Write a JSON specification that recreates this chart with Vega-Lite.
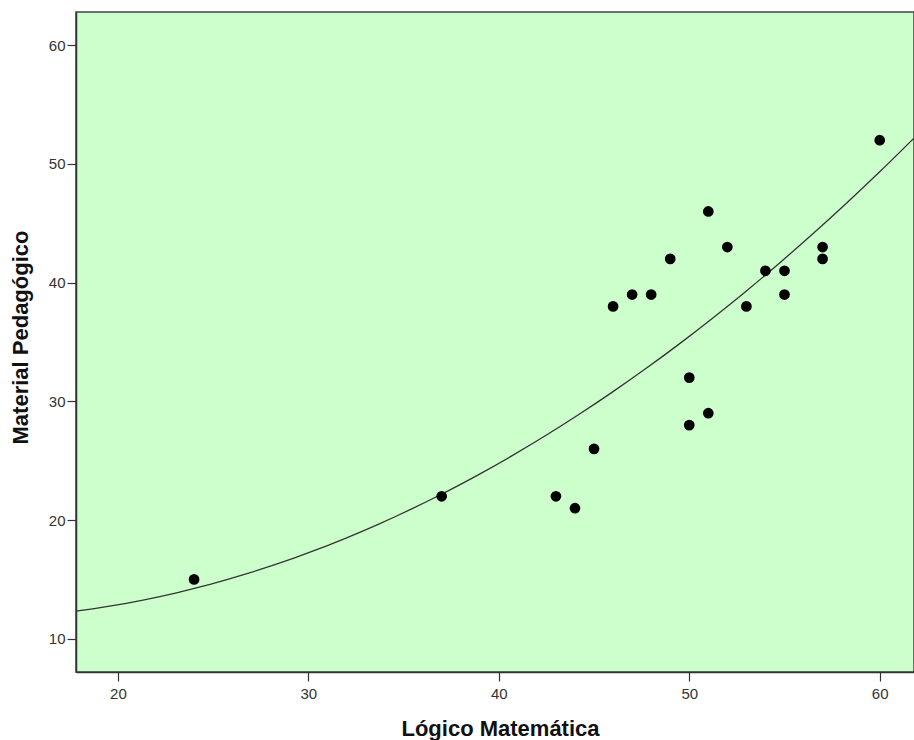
{
  "$schema": "https://vega.github.io/schema/vega-lite/v6.json",
  "autosize": {"type": "none"},
  "width": 838,
  "height": 660,
  "padding": {"left": 76, "top": 12, "right": 0, "bottom": 68},
  "background": "white",
  "config": {
    "view": {"fill": "#ccffcc", "stroke": "#444444", "strokeWidth": 1.5},
    "axis": {
      "grid": false,
      "domainColor": "#333333",
      "domainWidth": 1.5,
      "tickColor": "#333333",
      "tickWidth": 1.2,
      "tickSize": 9,
      "labelFont": "Liberation Sans",
      "labelFontSize": 15,
      "labelColor": "#333333",
      "titleFont": "Liberation Sans",
      "titleFontSize": 22,
      "titleFontWeight": "bold",
      "titleColor": "#111111"
    }
  },
  "data": {
    "values": [
      {"x": 24, "y": 15}, {"x": 37, "y": 22}, {"x": 43, "y": 22}, {"x": 44, "y": 21},
      {"x": 45, "y": 26}, {"x": 46, "y": 38}, {"x": 47, "y": 39}, {"x": 48, "y": 39},
      {"x": 49, "y": 42}, {"x": 50, "y": 32}, {"x": 50, "y": 28}, {"x": 51, "y": 46},
      {"x": 51, "y": 29}, {"x": 52, "y": 43}, {"x": 53, "y": 38}, {"x": 54, "y": 41},
      {"x": 55, "y": 41}, {"x": 55, "y": 39}, {"x": 57, "y": 43}, {"x": 57, "y": 42},
      {"x": 60, "y": 52}
    ]
  },
  "layer": [
    {
      "transform": [
        {"regression": "y", "on": "x", "method": "quad", "extent": [17.8, 61.8]}
      ],
      "mark": {"type": "line", "color": "#333333", "strokeWidth": 1.3, "clip": true, "interpolate": "monotone"},
      "encoding": {
        "x": {"field": "x", "type": "quantitative"},
        "y": {"field": "y", "type": "quantitative"}
      }
    },
    {
      "mark": {"type": "circle", "color": "#000000", "opacity": 1, "size": 115},
      "encoding": {
        "x": {
          "field": "x", "type": "quantitative",
          "scale": {"domain": [17.8, 61.8], "nice": false, "zero": false},
          "axis": {"values": [20, 30, 40, 50, 60], "labelPadding": 5, "title": "Lógico Matemática", "titleX": 424, "titleY": 56, "titleAlign": "center", "titleBaseline": "middle"}
        },
        "y": {
          "field": "y", "type": "quantitative",
          "scale": {"domain": [7.2, 62.8], "nice": false, "zero": false},
          "axis": {"values": [10, 20, 30, 40, 50, 60], "labelPadding": 2, "title": "Material Pedagógico", "titleX": -56, "titleY": 325, "titleAngle": -90, "titleAlign": "center", "titleBaseline": "middle"}
        }
      }
    }
  ]
}
